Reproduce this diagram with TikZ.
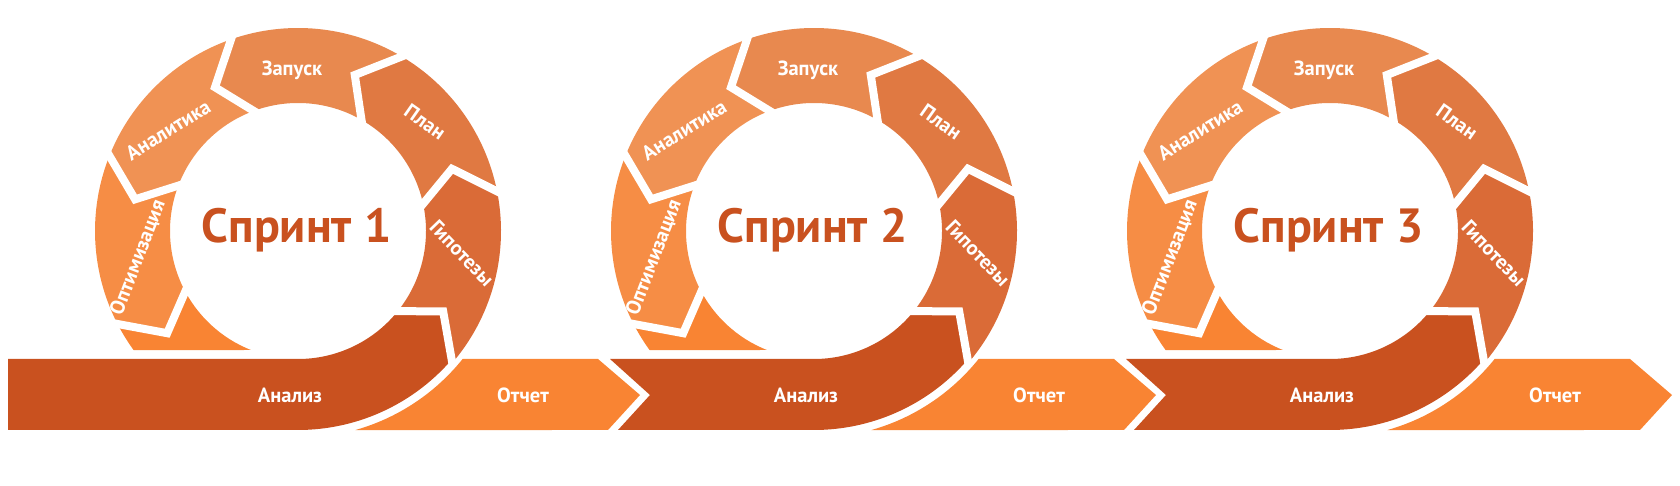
\documentclass[tikz,border=0pt]{standalone}
\usepackage{fontspec}
\setmainfont{PT Sans}
\usetikzlibrary{calc}
\definecolor{cZap}{RGB}{232,137,79}
\definecolor{cAnl}{RGB}{240,146,84}
\definecolor{cOpt}{RGB}{246,141,69}
\definecolor{cPlan}{RGB}{224,121,66}
\definecolor{cGip}{RGB}{218,107,55}
\definecolor{cAnz}{RGB}{201,81,31}
\definecolor{cOtc}{RGB}{249,132,51}
\newcommand{\rOut}{203}
\newcommand{\rIn}{128}
\newcommand{\rMid}{166}
\newcommand{\ringseg}[3]{%
  \fill[#3] (#1:\rOut) arc[start angle=#1, end angle=#2, radius=\rOut] -- ({#2+12}:\rMid) -- (#2:\rIn) arc[start angle=#2, end angle=#1, radius=\rIn] -- ({#1+12}:\rMid) -- cycle;}
\newcommand{\gapline}[2]{\draw[gap] (#1:{\rIn-6}) -- ({#1+12}:\rMid) -- (#1:{\rOut+#2});}
\newcommand{\sprint}[3]{%
\begin{scope}[xshift=#1]
  % Analiz bar with curved arrow
  \fill[cAnz] (298,127) arc[start angle=-90, end angle=-41, radius=\rIn] -- ($(298,255)+(-29:\rMid)$) -- ($(298,259)+(-42:203)$) arc[start angle=-42, end angle=-90, radius=203] -- #3 -- cycle;
  % Otchet arrow
  \fill[cOtc] ($(298,259)+(-74.2:211)$) arc[start angle=-74.2, end angle=-38.7, radius=211] -- (598,127) -- (640,91) -- (608,56) -- cycle;
  \begin{scope}[shift={(298,255)}]
    \ringseg{-41}{10}{cGip}
    \ringseg{10}{58}{cPlan}
    \ringseg{58}{108}{cZap}
    \ringseg{108}{157}{cAnl}
    \ringseg{157}{206}{cOpt}
    \fill[cOtc] (206:\rOut) arc[start angle=206, end angle=215.9, radius=\rOut] -- (248.4:\rIn) arc[start angle=248.4, end angle=206, radius=\rIn] -- (218:\rMid) -- cycle;
    \gapline{-41}{2}
    \gapline{10}{6}
    \gapline{58}{6}
    \gapline{108}{6}
    \gapline{157}{6}
    \gapline{206}{6}
  \end{scope}
  \node[lbl, rotate=0] (zap#2) at (292,418) {Запуск};
  \node[lbl, rotate=-35] (plan#2) at (425,364) {План};
  \node[lbl, rotate=-46] (gip#2) at (462,233) {Гипотезы};
  \node[lbl, rotate=32] (anl#2) at (168,356) {Аналитика};
  \node[lbl, rotate=69] (opt#2) at (137,229) {Оптимизация};
  \node[lbl] (anz#2) at (290,91) {Анализ};
  \node[lbl] (otc#2) at (523,91) {Отчет};
  \node[sprinttxt] (spr#2) at (296.5,260) {Спринт #2};
\end{scope}}
\begin{document}
\begin{tikzpicture}[x=1pt, y=1pt,
  gap/.style={white, line width=8pt, line join=miter, line cap=butt},
  lbl/.style={text=white, font=\fontsize{20.5}{22}\selectfont\bfseries, inner sep=0pt, text height=14.3pt, text depth=0pt, anchor=center},
  sprinttxt/.style={text=cAnz, font=\fontsize{48}{56}\selectfont\bfseries, inner sep=0pt, text height=33.6pt, text depth=0pt, anchor=center}]
  \useasboundingbox (0,0) rectangle (1680,486);
  \sprint{0}{1}{(8,56) -- (8,127)}
  \sprint{516}{2}{(102,56) -- (134,91) -- (94,127)}
  \sprint{1032}{3}{(102,56) -- (134,91) -- (94,127)}
\end{tikzpicture}
\end{document}
